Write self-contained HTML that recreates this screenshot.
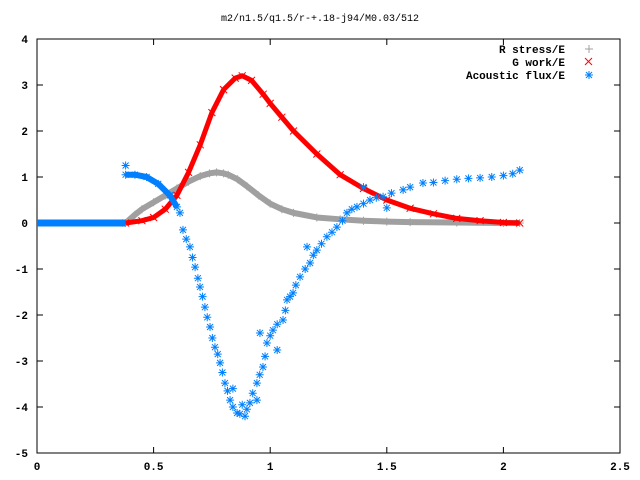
<!DOCTYPE html>
<html><head><meta charset="utf-8"><style>
body{margin:0;background:#fff}
svg{display:block}
text{font-family:"Liberation Mono",monospace;font-size:11px;fill:#000;font-weight:bold}
</style></head><body>
<svg id="chart" width="640" height="480" viewBox="0 0 640 480" xmlns="http://www.w3.org/2000/svg">
<text x="320" y="21" text-anchor="middle" style="font-weight:normal;font-size:10px">m2/n1.5/q1.5/r-+.18-j94/M0.03/512</text>
<rect x="37" y="39" width="583" height="414" fill="none" stroke="#000" stroke-width="1"/>
<g id="axes"></g>
<g id="series"></g>
<g>
<text x="565" y="53" text-anchor="end">R stress/E</text>
<text x="565" y="66" text-anchor="end">G work/E</text>
<text x="565" y="79" text-anchor="end">Acoustic flux/E</text>
<path d="M585,49h8M589,45v8" stroke="#a0a0a0" stroke-width="1"/>
<path d="M585,58l7,7M592,58l-7,7" stroke="#ff0000" stroke-width="1"/>
<path d="M585,75h8M589,71v8M586,72l6,6M592,72l-6,6" stroke="#0080ff" stroke-width="1"/>
</g>
</svg>
<script>
const xTicks=[0,0.5,1,1.5,2,2.5];
const xTickLabels=["0","0.5","1","1.5","2","2.5"];
const yTicks=[4,3,2,1,0,-1,-2,-3,-4,-5];
const yTickLabels=["4","3","2","1","0","-1","-2","-3","-4","-5"];
const grayX=[0.38,0.42,0.45,0.5,0.55,0.6,0.65,0.7,0.74,0.77,0.8,0.82,0.86,0.9,0.95,1.0,1.05,1.1,1.2,1.3,1.4,1.5,1.6,1.8,2.0,2.07];
const grayY=[0,0.18,0.3,0.45,0.6,0.75,0.9,1.02,1.08,1.1,1.08,1.05,0.95,0.8,0.6,0.42,0.3,0.22,0.12,0.08,0.05,0.03,0.02,0.01,0,0];
const redX=[0.38,0.45,0.5,0.55,0.6,0.65,0.7,0.75,0.8,0.85,0.88,0.92,0.97,1.0,1.05,1.1,1.2,1.3,1.4,1.5,1.6,1.7,1.8,1.9,2.0,2.07];
const redY=[0,0.05,0.12,0.3,0.6,1.1,1.7,2.4,2.9,3.15,3.2,3.1,2.8,2.6,2.3,2.0,1.5,1.05,0.75,0.5,0.32,0.2,0.1,0.05,0.01,0];
const blueLineX=[0,0.38];
const blueLineY=[0,0];
const blueBandX=[0.38,0.42,0.47,0.52,0.57,0.6];
const blueBandY=[1.05,1.05,1.0,0.85,0.6,0.35];
const blueX=[0.38,0.38,0.42,0.47,0.52,0.57,0.6,0.613,0.626,0.64,0.656,0.667,0.678,0.69,0.699,0.71,0.72,0.73,0.742,0.752,0.763,0.775,0.785,0.795,0.806,0.817,0.828,0.84,0.858,0.87,0.892,0.9,0.913,0.925,0.943,0.955,0.969,0.978,0.986,1.0,1.012,1.03,1.055,1.065,1.072,1.085,1.098,1.11,1.128,1.15,1.171,1.185,1.2,1.22,1.243,1.265,1.286,1.31,1.329,1.35,1.372,1.4,1.428,1.455,1.484,1.52,1.57,1.6,1.655,1.7,1.75,1.8,1.85,1.9,1.95,2.0,2.04,2.07,0.956,1.158,1.4,1.5,1.03,0.943,0.88,0.84];
const blueY=[1.25,1.05,1.05,1.0,0.85,0.6,0.35,0.22,-0.15,-0.35,-0.52,-0.75,-0.96,-1.2,-1.39,-1.6,-1.83,-2.05,-2.26,-2.5,-2.7,-2.85,-3.04,-3.25,-3.48,-3.65,-3.85,-4.0,-4.13,-4.15,-4.2,-4.05,-3.91,-3.7,-3.48,-3.3,-3.13,-2.9,-2.61,-2.45,-2.33,-2.2,-2.11,-1.9,-1.67,-1.6,-1.52,-1.35,-1.17,-1.0,-0.87,-0.7,-0.59,-0.45,-0.3,-0.2,-0.09,0.05,0.22,0.3,0.35,0.42,0.5,0.55,0.57,0.65,0.72,0.78,0.87,0.88,0.92,0.95,0.97,0.98,1.0,1.03,1.07,1.15,-2.39,-0.52,0.78,0.33,-2.76,-3.85,-3.95,-3.6];
const NS="http://www.w3.org/2000/svg";
const X0=37,X1=620,Y0=453,Y1=39,XMIN=0,XMAX=2.5,YMIN=-5,YMAX=4;
function sx(v){return X0+(v-XMIN)/(XMAX-XMIN)*(X1-X0);}
function sy(v){return Y0-(v-YMIN)/(YMAX-YMIN)*(Y0-Y1);}
const axes=document.getElementById('axes'),series=document.getElementById('series');
function mk(tag,attrs,parent){const e=document.createElementNS(NS,tag);for(const k in attrs)e.setAttribute(k,attrs[k]);parent.appendChild(e);return e;}
xTicks.forEach((t,i)=>{
  const x=sx(t);
  const p=mk('path',{d:`M${x},${Y0}v-6M${x},${Y1}v6`,stroke:'#000'},axes);
  
  
  const tx=mk('text',{x:x,y:470,'text-anchor':'middle'},axes);tx.textContent=xTickLabels[i];
  
  
});
yTicks.forEach((t,i)=>{
  const y=sy(t);
  const p=mk('path',{d:`M${X0},${y}h6M${X1},${y}h-6`,stroke:'#000'},axes);
  
  
  const tx=mk('text',{x:28,y:y+4,'text-anchor':'end'},axes);tx.textContent=yTickLabels[i];
  
  
});
function line(xs,ys,color,w,name){
  const pts=xs.map((x,i)=>sx(x)+','+sy(ys[i])).join(' ');
  const l=mk('polyline',{points:pts,fill:'none',stroke:color,'stroke-width':w,'stroke-linejoin':'round'},series);
  
  
}
function markers(xs,ys,color,kind,name){
  xs.forEach((x,i)=>{
    const cx=sx(x),cy=sy(ys[i]);
    let d;
    if(kind==='plus')d=`M${cx-4},${cy}h8M${cx},${cy-4}v8`;
    else if(kind==='x')d=`M${cx-3.5},${cy-3.5}l7,7M${cx+3.5},${cy-3.5}l-7,7`;
    else d=`M${cx-4},${cy}h8M${cx},${cy-4}v8M${cx-3},${cy-3}l6,6M${cx+3},${cy-3}l-6,6`;
    const p=mk('path',{d:d,stroke:color,'stroke-width':1},series);
    
    
  });
}
line(grayX,grayY,'#a0a0a0',6,'r-stress-line');
markers(grayX,grayY,'#a0a0a0','plus','r-stress-point');
line(redX,redY,'#ff0000',5,'g-work-line');
markers(redX,redY,'#ff0000','x','g-work-point');
line(blueLineX,blueLineY,'#0080ff',7,'acoustic-flux-baseline');
line(blueBandX,blueBandY,'#0080ff',6,'acoustic-flux-band');
markers(blueX,blueY,'#0080ff','star','acoustic-flux-point');
</script>
</body></html>
